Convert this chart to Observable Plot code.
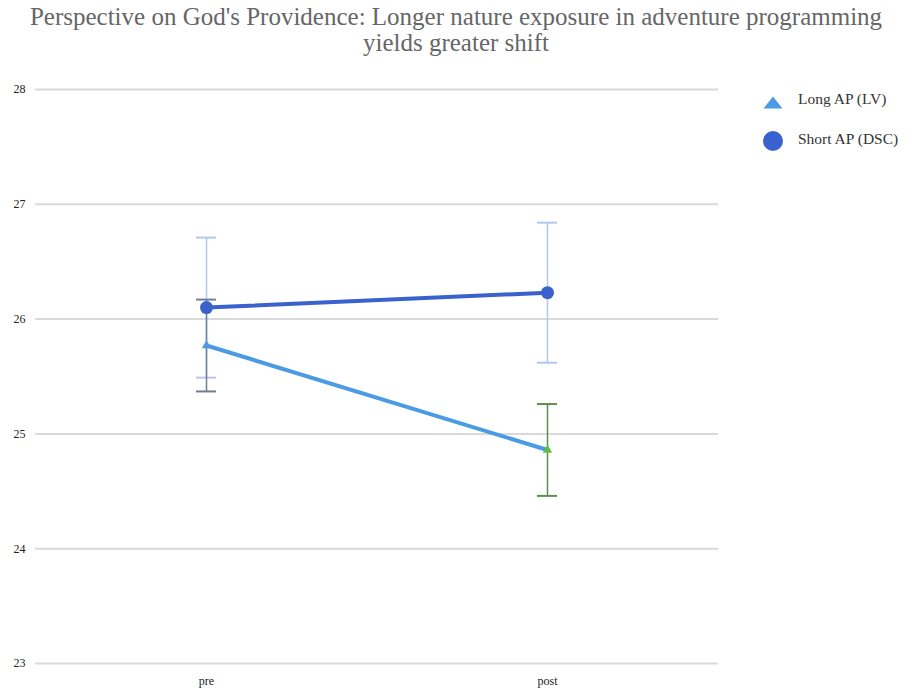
<!DOCTYPE html>
<html>
<head>
<meta charset="utf-8">
<script src="https://cdn.jsdelivr.net/npm/d3@7"></script>
<script src="https://cdn.jsdelivr.net/npm/@observablehq/plot@0.6"></script>
<style>
  body { margin: 0; background: #fff; font-family: "Liberation Serif", serif; }
  #wrap { position: relative; width: 907px; height: 693px; overflow: hidden; }
  #title { position: absolute; left: 0; top: 4px; width: 912px; text-align: center; font-size: 25px; line-height: 26px; color: #666; }
  #chart { position: absolute; left: 0; top: 65px; }
  .sym { position: absolute; }
  .legtxt { position: absolute; left: 798px; font-size: 15.5px; color: #333; white-space: nowrap; }
</style>
</head>
<body>
<div id="wrap">
  <div id="title">Perspective on God's Providence: Longer nature exposure in adventure programming<br>yields greater shift</div>
  <div id="chart"></div>
  <svg class="sym" style="left:762px;top:95px" width="22" height="15"><path d="M11,1.5 L20.5,13.5 L1.5,13.5 Z" fill="#4a9be3"/></svg>
  <div class="legtxt" style="top:90px">Long AP (LV)</div>
  <svg class="sym" style="left:762px;top:130px" width="22" height="22"><circle cx="11" cy="11" r="10" fill="#3a62cf"/></svg>
  <div class="legtxt" style="top:130px">Short AP (DSC)</div>
</div>
<script>
const times = ["pre", "post"];
const seriesNames = ["Long AP (LV)", "Short AP (DSC)"];
const longMeans = [25.77, 24.86];
const longErr = [0.40, 0.40];
const shortMeans = [26.10, 26.23];
const shortErr = [0.61, 0.61];
const yTicks = [23, 24, 25, 26, 27, 28];

const longColor = "#4a9be3";
const shortColor = "#3a62cf";
const shortErrColor = "#b3c6f0";
const longErrColors = ["#6b7f96", "#5f8c4f"];
const longMarkerColors = ["#4a9be3", "#5fbf3f"];

const longData = times.map((t, i) => ({time: t, v: longMeans[i], lo: longMeans[i] - longErr[i], hi: longMeans[i] + longErr[i], ec: longErrColors[i], mc: longMarkerColors[i]}));
const shortData = times.map((t, i) => ({time: t, v: shortMeans[i], lo: shortMeans[i] - shortErr[i], hi: shortMeans[i] + shortErr[i]}));

const capsOf = (data) => data.flatMap(d => [{time: d.time, y: d.lo, ec: d.ec}, {time: d.time, y: d.hi, ec: d.ec}]);

const chart = Plot.plot({
  width: 907,
  height: 628,
  marginLeft: 35,
  marginRight: 189,
  marginTop: 24,
  marginBottom: 30,
  style: {fontFamily: "Liberation Serif, serif", fontSize: "12px", color: "#222", background: "#fff"},
  x: {type: "point", domain: times, padding: 0.5, label: null, tickSize: 0, tickPadding: 13},
  y: {domain: [23, 28], ticks: yTicks, tickFormat: "d", label: null, tickSize: 0, tickPadding: 10},
  marks: [
    Plot.gridY(yTicks, {stroke: "#d9d9d9", strokeOpacity: 1, strokeWidth: 2}),
    // short error bars
    Plot.ruleX(shortData, {x: "time", y1: "lo", y2: "hi", stroke: shortErrColor, strokeWidth: 1.5}),
    Plot.ruleY(capsOf(shortData), {x1: "time", x2: "time", y: "y", stroke: shortErrColor, strokeWidth: 2, insetLeft: -10, insetRight: -10}),
    // long error bars
    Plot.ruleX(longData, {x: "time", y1: "lo", y2: "hi", stroke: "ec", strokeWidth: 1.5}),
    Plot.ruleY(capsOf(longData), {x1: "time", x2: "time", y: "y", stroke: "ec", strokeWidth: 2, insetLeft: -10, insetRight: -10}),
    // lines
    Plot.line(longData, {x: "time", y: "v", stroke: longColor, strokeWidth: 4}),
    Plot.line(shortData, {x: "time", y: "v", stroke: shortColor, strokeWidth: 4}),
    Plot.dot(longData, {x: "time", y: "v", symbol: "triangle", r: 3.5, fill: "mc", stroke: null}),
    Plot.dot(shortData, {x: "time", y: "v", r: 6.5, fill: shortColor, stroke: null})
  ]
});
document.getElementById("chart").appendChild(chart);
</script>
</body>
</html>
